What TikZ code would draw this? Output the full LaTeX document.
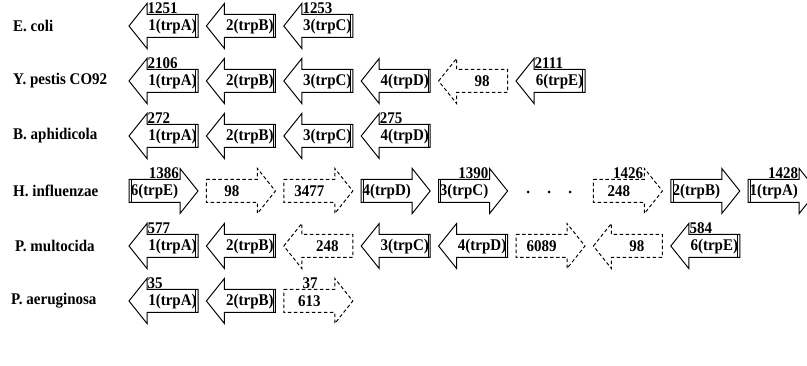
\documentclass[tikz,border=0pt]{standalone}
\usepackage{fontspec}
\setmainfont[FakeStretch=0.92]{Liberation Serif}
\begin{document}
\begin{tikzpicture}[x=1pt,y=-1pt,
  arr/.style={line width=1pt,line join=miter},
  darr/.style={line width=1pt,dash pattern=on 3.5pt off 2.5pt},
  txt/.style={font=\bfseries\fontsize{16.3}{16}\selectfont,inner sep=0pt},
  org/.style={font=\bfseries\fontsize{16.3}{16}\selectfont,inner sep=0pt,anchor=west},
  dotn/.style={circle,fill=black,inner sep=0pt,minimum size=3pt}]
\useasboundingbox (0,0) rectangle (807,366);
\clip (0,0) rectangle (807,366);
% left-pointing arrow: #1 column, #2 centre y, #3 name, #4 text, #5 style
\newcommand{\Larr}[5]{%
  \pgfmathsetmacro{\gxa}{129+77.4*#1}%
  \draw[#5] (\gxa,#2) -- (\gxa+18,#2-22.5) -- (\gxa+18,#2-11.5) -- (\gxa+69,#2-11.5)
    -- (\gxa+69,#2+11.5) -- (\gxa+18,#2+11.5) -- (\gxa+18,#2+22.5) -- cycle;
  \node[txt] (#3) at (\gxa+43.5,#2+0.5) {#4};}
\newcommand{\Rarr}[5]{%
  \pgfmathsetmacro{\gxa}{129+77.4*#1}%
  \draw[#5] (\gxa,#2-11.5) -- (\gxa+51,#2-11.5) -- (\gxa+51,#2-22.5) -- (\gxa+69,#2)
    -- (\gxa+51,#2+22.5) -- (\gxa+51,#2+11.5) -- (\gxa,#2+11.5) -- cycle;
  \node[txt] (#3) at (\gxa+25.5,#2+0.5) {#4};}
% doubled back edge of solid arrows
\newcommand{\Lback}[2]{%
  \pgfmathsetmacro{\gxa}{129+77.4*#1}%
  \draw[arr] (\gxa+66.8,#2-11.5) -- (\gxa+66.8,#2+11.5);}
\newcommand{\Rback}[2]{%
  \pgfmathsetmacro{\gxa}{129+77.4*#1}%
  \draw[arr] (\gxa+2.2,#2-11.5) -- (\gxa+2.2,#2+11.5);}
% labels above: left arrows (left-aligned at head base), right arrows (right-aligned)
\newcommand{\Llab}[4]{%
  \pgfmathsetmacro{\gxa}{129+77.4*#1}%
  \node[txt,anchor=south west] (#3) at (\gxa+18.5,#2-12.3) {#4};}
\newcommand{\Rlab}[4]{%
  \pgfmathsetmacro{\gxa}{129+77.4*#1}%
  \node[txt,anchor=south east] (#3) at (\gxa+50,#2-12.3) {#4};}

% ---------- E. coli
\node[org] (o1) at (13,26) {E. coli};
\Larr{0}{26}{a11}{1(trpA)}{arr}\Lback{0}{26}
\Larr{1}{26}{a12}{2(trpB)}{arr}\Lback{1}{26}
\Larr{2}{26}{a13}{3(trpC)}{arr}\Lback{2}{26}
\Llab{0}{26}{l11}{1251}
\Llab{2}{26}{l13}{1253}

% ---------- Y. pestis
\node[org] (o2) at (13,81) {Y. pestis CO92};
\Larr{0}{81}{a21}{1(trpA)}{arr}\Lback{0}{81}
\Larr{1}{81}{a22}{2(trpB)}{arr}\Lback{1}{81}
\Larr{2}{81}{a23}{3(trpC)}{arr}\Lback{2}{81}
\Larr{3}{81}{a24}{4(trpD)}{arr}\Lback{3}{81}
\Larr{4}{81}{a25}{98}{darr}
\Larr{5}{81}{a26}{6(trpE)}{arr}\Lback{5}{81}
\Llab{0}{81}{l21}{2106}
\Llab{5}{81}{l26}{2111}

% ---------- B. aphidicola
\node[org] (o3) at (13,136) {B. aphidicola};
\Larr{0}{136}{a31}{1(trpA)}{arr}\Lback{0}{136}
\Larr{1}{136}{a32}{2(trpB)}{arr}\Lback{1}{136}
\Larr{2}{136}{a33}{3(trpC)}{arr}\Lback{2}{136}
\Larr{3}{136}{a34}{4(trpD)}{arr}\Lback{3}{136}
\Llab{0}{136}{l31}{272}
\Llab{3}{136}{l34}{275}

% ---------- H. influenzae
\node[org] (o4) at (13,191) {H. influenzae};
\Rarr{0}{191}{a41}{6(trpE)}{arr}\Rback{0}{191}
\Rarr{1}{191}{a42}{98}{darr}
\Rarr{2}{191}{a43}{3477}{darr}
\Rarr{3}{191}{a44}{4(trpD)}{arr}\Rback{3}{191}
\Rarr{4}{191}{a45}{3(trpC)}{arr}\Rback{4}{191}
\node[dotn] (d1) at (528,192) {};
\node[dotn] (d2) at (549,192) {};
\node[dotn] (d3) at (570,192) {};
\Rarr{6}{191}{a47}{248}{darr}
\Rarr{7}{191}{a48}{2(trpB)}{arr}\Rback{7}{191}
\Rarr{8}{191}{a49}{1(trpA)}{arr}\Rback{8}{191}
\Rlab{0}{191}{l41}{1386}
\Rlab{4}{191}{l45}{1390}
\Rlab{6}{191}{l47}{1426}
\Rlab{8}{191}{l49}{1428}

% ---------- P. multocida
\node[org] (o5) at (15,246) {P. multocida};
\Larr{0}{246}{a51}{1(trpA)}{arr}\Lback{0}{246}
\Larr{1}{246}{a52}{2(trpB)}{arr}\Lback{1}{246}
\Larr{2}{246}{a53}{248}{darr}
\Larr{3}{246}{a54}{3(trpC)}{arr}\Lback{3}{246}
\Larr{4}{246}{a55}{4(trpD)}{arr}\Lback{4}{246}
\Rarr{5}{246}{a56}{6089}{darr}
\Larr{6}{246}{a57}{98}{darr}
\Larr{7}{246}{a58}{6(trpE)}{arr}\Lback{7}{246}
\Llab{0}{246}{l51}{577}
\Llab{7}{246}{l58}{584}

% ---------- P. aeruginosa
\node[org] (o6) at (11,301) {P. aeruginosa};
\Larr{0}{301}{a61}{1(trpA)}{arr}\Lback{0}{301}
\Larr{1}{301}{a62}{2(trpB)}{arr}\Lback{1}{301}
\Rarr{2}{301}{a63}{613}{darr}
\Llab{0}{301}{l61}{35}
\node[txt,anchor=south] (l63) at (310,288.7) {37};
\end{tikzpicture}
\end{document}
